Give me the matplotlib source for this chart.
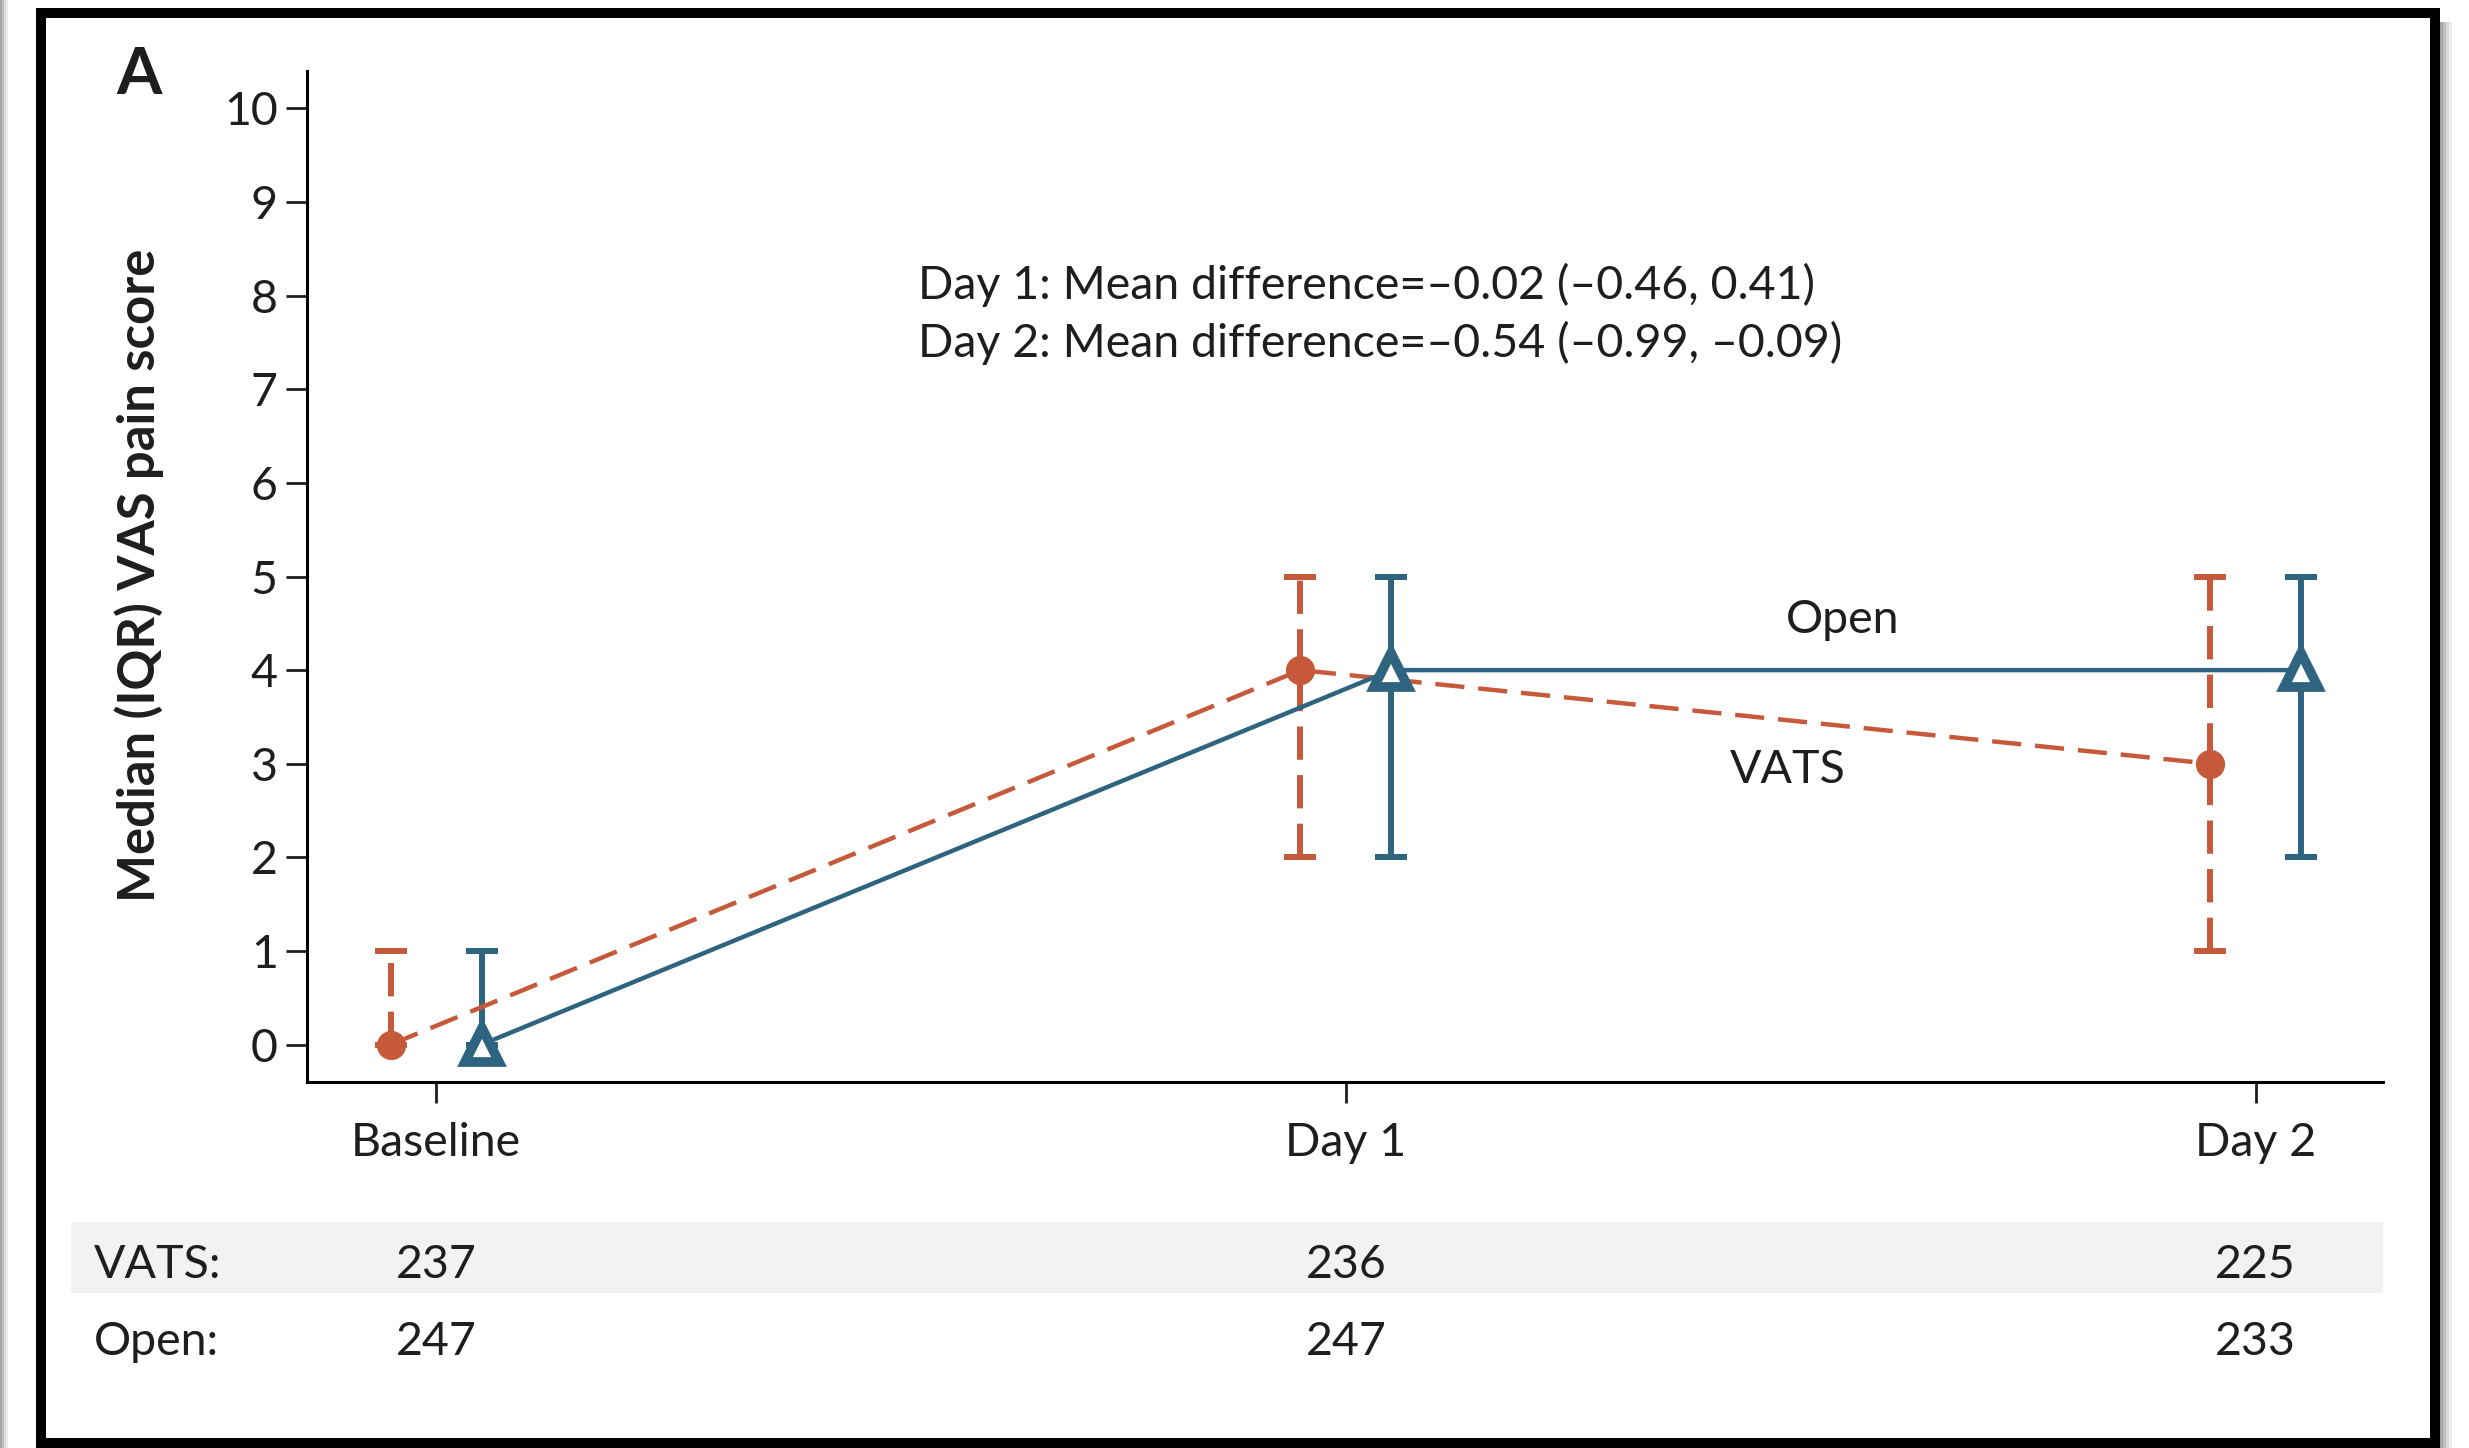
import numpy as np
import matplotlib
matplotlib.use("Agg")
import matplotlib.pyplot as plt
from matplotlib.patches import Rectangle
from matplotlib.transforms import blended_transform_factory

plt.rcParams["font.family"] = ["Lato", "DejaVu Sans"]
plt.rcParams["lines.scale_dashes"] = False

# data
timepoints = ["Baseline", "Day 1", "Day 2"]
vats_median = [0, 4, 3]
vats_q1 = [0, 2, 1]
vats_q3 = [1, 5, 5]
open_median = [0, 4, 4]
open_q1 = [0, 2, 2]
open_q3 = [1, 5, 5]
vats_n = [237, 236, 225]
open_n = [247, 247, 233]
diff_lines = [
    "Day 1: Mean difference=\u20130.02 (\u20130.46, 0.41)",
    "Day 2: Mean difference=\u20130.54 (\u20130.99, \u20130.09)",
]

VATS_COLOR = "#c6593a"
OPEN_COLOR = "#2e6480"
TXT = "#1e1e1e"
FS = 33.5

W, H = 2469, 1448
fig = plt.figure(figsize=(W / 100, H / 100), dpi=100)
fig.patch.set_facecolor("white")

ax = fig.add_axes([307 / W, 1 - 1082 / H, (2383 - 307) / W, (1082 - 71) / H])
x = np.arange(len(timepoints))
off = 0.05

vm = np.array(vats_median)
om = np.array(open_median)
v_err = [vm - np.array(vats_q1), np.array(vats_q3) - vm]
o_err = [om - np.array(open_q1), np.array(open_q3) - om]

# IQR bars
eb_v = ax.errorbar(x - off, vm, yerr=v_err, fmt="none", ecolor=VATS_COLOR,
                   elinewidth=4.3, capsize=11.5, capthick=4.3, zorder=2)
eb_v[2][0].set_linestyle((0, (24, 11)))
ax.errorbar(x + off, om, yerr=o_err, fmt="none", ecolor=OPEN_COLOR,
            elinewidth=4.3, capsize=11.5, capthick=4.3, zorder=2)

# median lines
ax.plot(x - off, vm, color=VATS_COLOR, lw=3.2, linestyle=(0, (21, 10)), zorder=3)
ax.plot(x + off, om, color=OPEN_COLOR, lw=3.2, zorder=3)
ax.plot(x - off, vm, "o", color=VATS_COLOR, ms=20, zorder=4)
ax.plot(x + off, om, "^", color=OPEN_COLOR, ms=25, mfc="white", mew=7, zorder=4)

ax.set_xlim(-0.142, 2.140)
ax.set_ylim(-0.40, 10.40)
ax.set_yticks(range(0, 11))
ax.set_xticks(x)
ax.set_xticklabels(timepoints)
for s in ["top", "right"]:
    ax.spines[s].set_visible(False)
for s in ["left", "bottom"]:
    ax.spines[s].set_linewidth(2.2)
ax.tick_params(axis="both", direction="out", width=2.0, length=15,
               labelsize=FS, color=TXT, labelcolor=TXT)
ax.tick_params(axis="y", pad=6)
ax.tick_params(axis="x", pad=14)

ax.text(0.53, 8.12, diff_lines[0], fontsize=FS, ha="left", va="center", color=TXT)
ax.text(0.53, 7.49, diff_lines[1], fontsize=FS, ha="left", va="center", color=TXT)
ax.text(1.546, 4.53, "Open", fontsize=FS, ha="center", va="center", color=TXT)
ax.text(1.486, 2.93, "VATS", fontsize=FS, ha="center", va="center", color=TXT)

fig.text(139 / W, 1 - 575 / H, "Median (IQR) VAS pain score", rotation=90,
         fontsize=36.5, fontweight="bold", ha="center", va="center", color=TXT)
fig.text(139 / W, 1 - 76 / H, "A", fontsize=47, fontweight="bold",
         ha="center", va="center", color=TXT)

# number-at-risk table
fig.patches.append(Rectangle((71 / W, 1 - 1293 / H), (2383 - 71) / W, (1293 - 1222) / H,
                             transform=fig.transFigure, facecolor="#f1f2f2",
                             edgecolor="none", zorder=-1))
tr = blended_transform_factory(ax.transData, fig.transFigure)
fig.text(94 / W, 1 - 1265 / H, "VATS:", fontsize=FS, ha="left", va="center", color=TXT)
fig.text(94 / W, 1 - 1342 / H, "Open:", fontsize=FS, ha="left", va="center", color=TXT)
for xi, nv, no in zip(x, vats_n, open_n):
    ax.text(xi, 1 - 1265 / H, str(nv), transform=tr, fontsize=FS, ha="center",
            va="center", color=TXT, clip_on=False)
    ax.text(xi, 1 - 1342 / H, str(no), transform=tr, fontsize=FS, ha="center",
            va="center", color=TXT, clip_on=False)

# black frame with a small shadow
for i, a in enumerate([0.35, 0.25, 0.15, 0.07]):
    fig.patches.append(Rectangle(((2440 + 3 * i) / W, 0), 3 / W, 1 - 22 / H,
                                 transform=fig.transFigure, facecolor="black",
                                 alpha=a, edgecolor="none"))
    fig.patches.append(Rectangle(((2 * i) / W, 0), 2 / W, 1,
                                 transform=fig.transFigure, facecolor="black",
                                 alpha=a, edgecolor="none"))
fig.patches.append(Rectangle((41 / W, 1 - 1442.5 / H), (2435 - 41) / W, (1442.5 - 12.5) / H,
                             transform=fig.transFigure, fill=False,
                             edgecolor="black", linewidth=7.2))

fig.savefig("out.png", dpi=100)
